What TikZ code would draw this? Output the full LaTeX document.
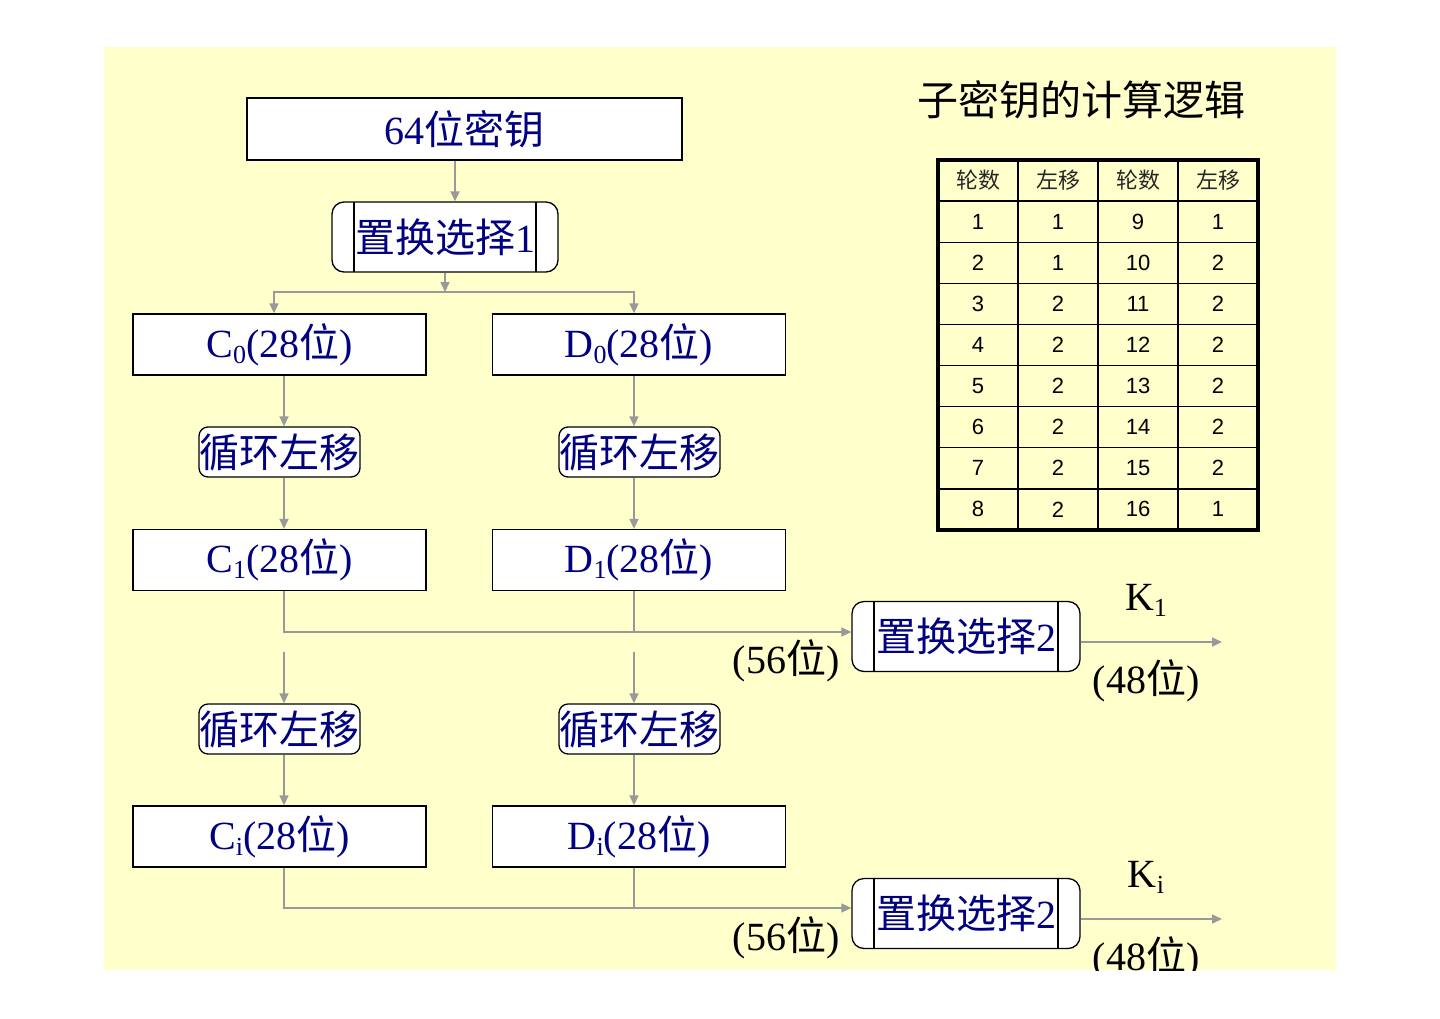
\documentclass[tikz,border=0pt]{standalone}
\usepackage{fontspec}
\setmainfont{Liberation Serif}
\newfontfamily\cjk{Noto Sans CJK SC}
\newfontfamily\arial{Liberation Sans}
\usetikzlibrary{arrows.meta}
\definecolor{bgyellow}{RGB}{255,255,204}
\definecolor{navytext}{RGB}{0,0,128}
\definecolor{arrowgray}{RGB}{153,153,153}
\newcommand\sbs[1]{\raisebox{-6pt}{\fontsize{26}{26}\selectfont #1}}
\begin{document}
\begin{tikzpicture}[x=1pt,y=-1pt,
  big/.style={font=\fontsize{40}{40}\selectfont},
  box/.style={draw=black, line width=1.3pt, fill=white, inner sep=0pt, text=navytext, big},
  wbox/.style={box, minimum width=293pt, minimum height=61pt},
  shbox/.style={box, rounded corners=9pt, minimum width=161pt, minimum height=50pt},
  pcbox/.style={box, rounded corners=12pt, minimum width=#1, minimum height=70pt,
    path picture={
      \draw[black,line width=1.3pt] ([xshift=22pt]path picture bounding box.north west) -- ([xshift=22pt]path picture bounding box.south west);
      \draw[black,line width=1.3pt] ([xshift=-22pt]path picture bounding box.north east) -- ([xshift=-22pt]path picture bounding box.south east);
    }},
  conn/.style={draw=arrowgray, line width=1.5pt},
  arr/.style={conn, -{Triangle[length=10pt,width=9pt]}},
  lbl/.style={inner sep=0pt, text=black, big},
  hdr/.style={inner sep=0pt, text=black!85, font=\cjk\fontsize{22}{22}\selectfont},
  cell/.style={inner sep=0pt, text=black, font=\arial\fontsize{22}{22}\selectfont}
]
\useasboundingbox (0,0) rectangle (1440,1018);
\begin{scope}
\clip (104,47) rectangle (1336,970);
\fill[bgyellow] (104,47) rectangle (1336,970);

% column coordinates
\coordinate (cx) at (284,0);
\coordinate (dx) at (634,0);

% title
\node[inner sep=0pt, text=black, font=\cjk\fontsize{41}{41}\selectfont] (title) at (1081,100) {子密钥的计算逻辑};

% boxes
\node[box, minimum width=435pt, minimum height=62pt] (key) at (464.5,129) {64{\cjk 位密钥}};
\node[pcbox=226pt] (pc1) at (445,237) {{\cjk 置换选择}1};

\node[wbox] (c0) at (279.5,344.5) {C\sbs{0}(28{\cjk 位})};
\node[wbox] (d0) at (639,344.5) {D\sbs{0}(28{\cjk 位})};
\node[shbox] (s1c) at (279.5,452) {\cjk 循环左移};
\node[shbox] (s1d) at (639.5,452) {\cjk 循环左移};
\node[wbox] (c1) at (279.5,560) {C\sbs{1}(28{\cjk 位})};
\node[wbox] (d1) at (639,560) {D\sbs{1}(28{\cjk 位})};
\node[shbox] (s2c) at (279.5,729) {\cjk 循环左移};
\node[shbox] (s2d) at (639.5,729) {\cjk 循环左移};
\node[wbox] (ci) at (279.5,836.5) {C\sbs{i}(28{\cjk 位})};
\node[wbox] (di) at (639,836.5) {D\sbs{i}(28{\cjk 位})};

\node[pcbox=228pt] (pca) at (966,636.5) {{\cjk 置换选择}2};
\node[pcbox=228pt] (pcb) at (966,913.5) {{\cjk 置换选择}2};

% labels
\node[lbl] (k1) at (1146,600) {K\sbs{1}};
\node[lbl] (b48a) at (1146,681) {(48{\cjk 位})};
\node[lbl] (b56a) at (786,661) {(56{\cjk 位})};
\node[lbl] (ki) at (1146,877) {K\sbs{i}};
\node[lbl] (b48b) at (1146,958) {(48{\cjk 位})};
\node[lbl] (b56b) at (786,938) {(56{\cjk 位})};

% connectors
\draw[arr] ([xshift=-9.5pt]key.south) -- ([xshift=10pt]pc1.north);
\coordinate (j1) at (445,292);
\draw[arr] (pc1.south) -- (j1);
\draw[arr] (j1) -| ([xshift=-5.5pt]c0.north);
\draw[arr] (j1) -| ([xshift=-5pt]d0.north);

\draw[arr] (c0.south -| cx) -- (s1c.north -| cx);
\draw[arr] (d0.south -| dx) -- (s1d.north -| dx);
\draw[arr] (s1c.south -| cx) -- (c1.north -| cx);
\draw[arr] (s1d.south -| dx) -- (d1.north -| dx);

\coordinate (m1) at (0,632);
\draw[arr] (c1.south -| cx) |- (pca.west |- m1);
\draw[conn] (d1.south -| dx) -- (dx |- m1);

\coordinate (n1) at (0,652);
\draw[arr] (cx |- n1) -- (s2c.north -| cx);
\draw[arr] (dx |- n1) -- (s2d.north -| dx);
\draw[arr] (s2c.south -| cx) -- (ci.north -| cx);
\draw[arr] (s2d.south -| dx) -- (di.north -| dx);

\coordinate (m2) at (0,908);
\draw[arr] (ci.south -| cx) |- (pcb.west |- m2);
\draw[conn] (di.south -| dx) -- (dx |- m2);

\coordinate (e1) at (1222,642);
\coordinate (e2) at (1222,919);
\draw[arr] (pca.east |- e1) -- (e1);
\draw[arr] (pcb.east |- e2) -- (e2);

% table
\foreach \r in {1,...,8} {
  \draw[black, line width=1.3pt] (938,{160+41.11*\r}) -- (1258,{160+41.11*\r});
}
\foreach \c in {1018,1098,1178} {
  \draw[black, line width=1.3pt] (\c,160) -- (\c,530);
}
\draw[black, line width=3.5pt] (938,160) rectangle (1258,530);
\node[hdr] (h1) at (978,180.5) {轮数};
\node[hdr] (h2) at (1058,180.5) {左移};
\node[hdr] (h3) at (1138,180.5) {轮数};
\node[hdr] (h4) at (1218,180.5) {左移};
\foreach \r/\a/\b/\c/\d in {1/1/1/9/1, 2/2/1/10/2, 3/3/2/11/2, 4/4/2/12/2, 5/5/2/13/2, 6/6/2/14/2, 7/7/2/15/2, 8/8/2/16/1} {
  \node[cell] (t\r-1) at (978,{180.5+41.11*\r}) {\a};
  \node[cell] (t\r-2) at (1058,{180.5+41.11*\r}) {\b};
  \node[cell] (t\r-3) at (1138,{180.5+41.11*\r}) {\c};
  \node[cell] (t\r-4) at (1218,{180.5+41.11*\r}) {\d};
}
\end{scope}
\end{tikzpicture}
\end{document}
